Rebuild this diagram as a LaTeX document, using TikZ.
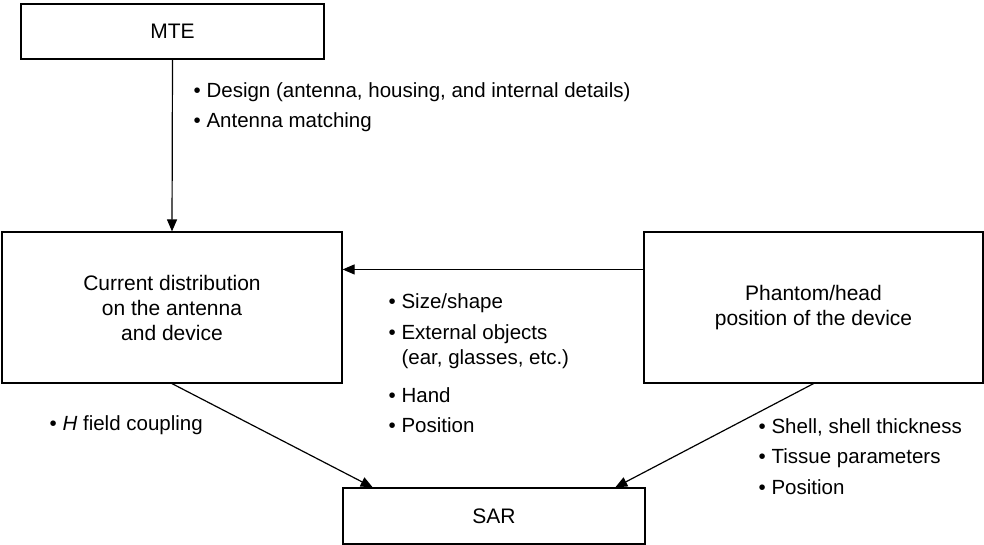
\documentclass[tikz,border=0pt]{standalone}
\usepackage{fontspec}
\setmainfont{Liberation Sans}
\usetikzlibrary{arrows.meta,calc}
\begin{document}
\begin{tikzpicture}[x=1pt,y=-1pt,
  box/.style={draw,line width=1.2pt,align=center,inner sep=0pt,font=\fontsize{21}{25}\selectfont},
  lbl/.style={align=left,inner sep=0pt,anchor=base west,font=\fontsize{20.5}{30.5}\selectfont},
  conn/.style={line width=1.2pt,-{Triangle[length=12pt,width=10pt]}}]
\useasboundingbox (0,0) rectangle (984,545);
\node[box,minimum width=303pt,minimum height=55pt] (mte) at (172.5,31.5) {MTE};
\node[box,minimum width=340pt,minimum height=151pt] (cur) at (172,307.5) {Current distribution\\on the antenna\\and device};
\node[box,minimum width=339pt,minimum height=151pt] (ph) at (813.5,307.5) {\rule{0pt}{0pt}Phantom/head\\position of the device\rule[-4pt]{0pt}{0pt}};
\node[box,minimum width=302pt,minimum height=56pt] (sar) at (494,516) {SAR};
\coordinate (phl) at ($(ph.north west)!0.25!(ph.south west)$);
\coordinate (s1) at ($(sar.north west)!0.1!(sar.north east)$);
\coordinate (s2) at ($(sar.north west)!0.9!(sar.north east)$);
\draw[conn] (mte.south) -- (cur.north);
\draw[conn] (phl) -- (phl -| cur.east);
\draw[conn] (cur.south) -- (s1);
\draw[conn] (ph.south) -- (s2);
% anchor base west of a multi-line node = baseline of its last line
\node[lbl] (design) at (193.5,128) {\textbullet\ Design (antenna, housing, and internal details)\\\textbullet\ Antenna matching};
\node[lbl,font=\fontsize{20.5}{25}\selectfont] (size) at (388.5,432) {\textbullet\ Size/shape\\[6pt]\textbullet\ External objects\\\phantom{\textbullet\ }(ear, glasses, etc.)\\[13pt]\textbullet\ Hand\\[5pt]\textbullet\ Position};
\node[lbl] (hfield) at (49.5,430) {\textbullet\ \textit{H} field coupling};
\node[lbl] (shell) at (758.5,494) {\textbullet\ Shell, shell thickness\\\textbullet\ Tissue parameters\\\textbullet\ Position};
\end{tikzpicture}
\end{document}
